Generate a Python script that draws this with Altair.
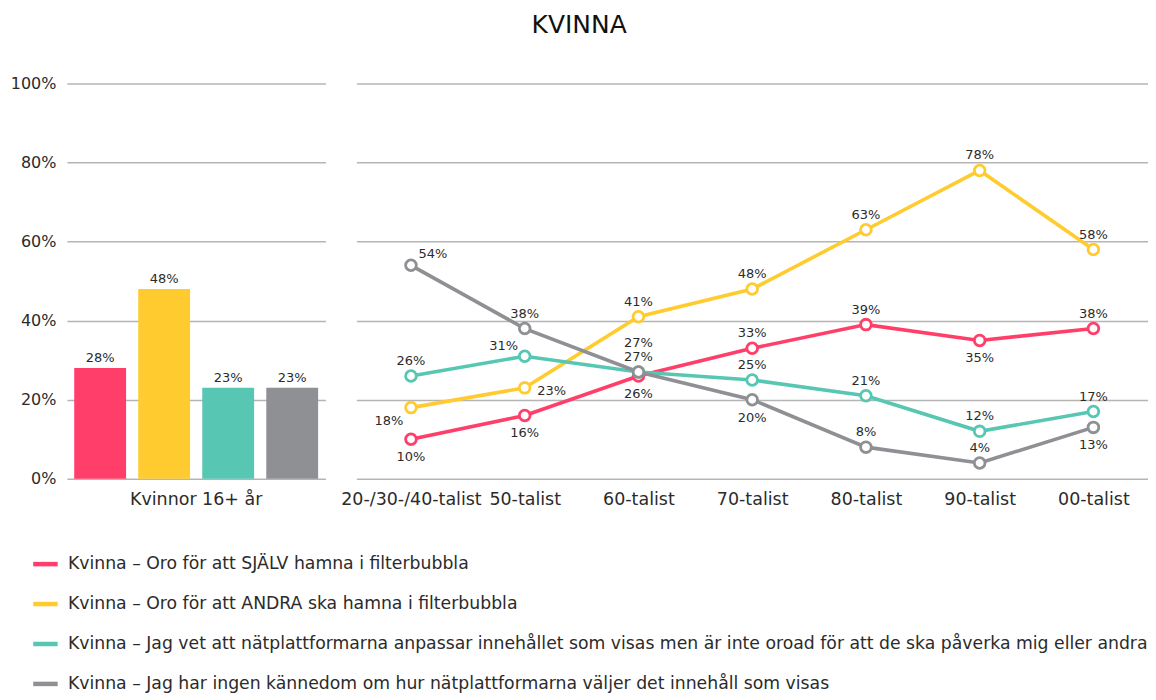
import altair as alt
import pandas as pd

FONT = "DejaVu Sans"

title_text = "KVINNA"
bar_group = "Kvinnor 16+ år"
categories = ["20-/30-/40-talist", "50-talist", "60-talist", "70-talist",
              "80-talist", "90-talist", "00-talist"]
series = [
    "Kvinna – Oro för att SJÄLV hamna i filterbubbla",
    "Kvinna – Oro för att ANDRA ska hamna i filterbubbla",
    "Kvinna – Jag vet att nätplattformarna anpassar innehållet som visas men är inte oroad för att de ska påverka mig eller andra",
    "Kvinna – Jag har ingen kännedom om hur nätplattformarna väljer det innehåll som visas",
]
colors = ["#FF3F6A", "#FFCB2E", "#57C7B3", "#8E9094"]

bar_values = [28, 48, 23, 23]

red_values = [10, 16, 26, 33, 39, 35, 38]
yellow_values = [18, 23, 41, 48, 63, 78, 58]
teal_values = [26, 31, 27, 25, 21, 12, 17]
grey_values = [54, 38, 27, 20, 8, 4, 13]

red_sides = ["below", "below", "below", "above", "above", "below", "above"]
yellow_sides = ["below-left", "right", "above", "above", "above", "above", "above"]
teal_sides = ["above", "above-left", "above2", "above", "above", "above", "above"]
grey_sides = ["above-right", "above", "above", "below", "above", "above", "below"]

all_values = [red_values, yellow_values, teal_values, grey_values]
all_sides = [red_sides, yellow_sides, teal_sides, grey_sides]

rows = []
for si, (s, vals, sides) in enumerate(zip(series, all_values, all_sides)):
    for c, v, sd in zip(categories, vals, sides):
        rows.append({"cat": c, "series": s, "order": si, "value": v, "side": sd})
line_df = pd.DataFrame(rows)

bar_df = pd.DataFrame({"group": [bar_group] * 4, "series": series,
                       "order": list(range(4)), "value": bar_values})

GRID = "#B5B5B5"
TXT = "#2b2b2b"
H = 396
W_RIGHT = 793

yvals = [0, 20, 40, 60, 80, 100]

y_left = alt.Y("value:Q", scale=alt.Scale(domain=[0, 100], nice=False),
               axis=alt.Axis(values=yvals, labelExpr="datum.value + '%'", title=None,
                             ticks=False, domain=False, grid=True, gridColor=GRID,
                             gridWidth=1.5, labelFontSize=16, labelPadding=11,
                             labelColor=TXT, labelFont=FONT))
y_right_axis = alt.Axis(values=yvals, labels=False, title=None, ticks=False, domain=False,
                        grid=True, gridColor=GRID, gridWidth=1.5)

color_enc = alt.Color(
    "series:N", scale=alt.Scale(domain=series, range=colors),
    legend=alt.Legend(title=None, orient="none", legendX=-36, legendY=467,
                      direction="vertical", symbolType="stroke", symbolSize=600,
                      symbolStrokeWidth=4.5, labelFontSize=17.3, labelLimit=1500,
                      rowPadding=16, labelColor=TXT, labelFont=FONT, labelOffset=8))

bar_base = alt.Chart(bar_df).encode(
    x=alt.X("group:N", title=None, scale=alt.Scale(paddingInner=0, paddingOuter=0.03),
            axis=alt.Axis(labelAngle=0, ticks=False, domain=False, grid=False, labelFontSize=17.5,
                          labelPadding=12, labelColor=TXT, labelFont=FONT)),
    xOffset=alt.XOffset("series:N", sort=series, scale=alt.Scale(paddingInner=0.19, paddingOuter=0.0)),
    y=y_left,
)
bars = bar_base.mark_bar().encode(color=color_enc)
bar_text = bar_base.mark_text(baseline="bottom", dy=-3, fontSize=13, font=FONT, color=TXT).transform_calculate(
    lbl="datum.value + '%'").encode(text="lbl:N")

left = alt.layer(bars, bar_text).properties(width=259, height=H)

x_right = alt.X("cat:N", sort=categories, title=None,
                scale=alt.Scale(type="point", padding=0.48),
                axis=alt.Axis(labelAngle=0, ticks=False, domain=False, grid=False, labelFontSize=17.5,
                              labelPadding=12, labelColor=TXT, labelFont=FONT))
y_right = alt.Y("value:Q", scale=alt.Scale(domain=[0, 100], nice=False), axis=y_right_axis)

line_base = alt.Chart(line_df).encode(x=x_right, y=y_right)

lines = line_base.mark_line(strokeWidth=3.6).encode(
    color=color_enc, detail="series:N", order="order:Q")
points = line_base.mark_point(filled=True, fill="white", size=115, strokeWidth=2.8, opacity=1).encode(
    stroke=alt.Stroke("series:N", scale=alt.Scale(domain=series, range=colors), legend=None))

side_offsets = {
    "above": (0, -15),
    "below": (0, 18),
    "above2": (0, -29),
    "below-left": (-22, 13),
    "above-left": (-21, -10),
    "right": (27, 3),
    "above-right": (22, -11),
}
label_layers = []
for side, (dx, dy) in side_offsets.items():
    label_layers.append(
        line_base.mark_text(fontSize=13, font=FONT, color=TXT, baseline="middle", dx=dx, dy=dy)
        .transform_filter(alt.datum.side == side)
        .transform_calculate(lbl="datum.value + '%'")
        .encode(text="lbl:N")
    )

right = alt.layer(lines, points, *label_layers).properties(width=W_RIGHT, height=H)

chart = alt.hconcat(left, right, spacing=15).resolve_scale(
    x="independent", xOffset="independent"
).properties(
    title=alt.TitleParams(title_text, fontSize=25, font=FONT, fontWeight="normal",
                          anchor="middle", color="#111", offset=38),
    padding={"left": 2, "right": 0, "top": 4, "bottom": 0},
).configure(font=FONT).configure_view(stroke="transparent", strokeWidth=0)

chart.save("out.html", embed_options={"renderer": "svg", "actions": False})
